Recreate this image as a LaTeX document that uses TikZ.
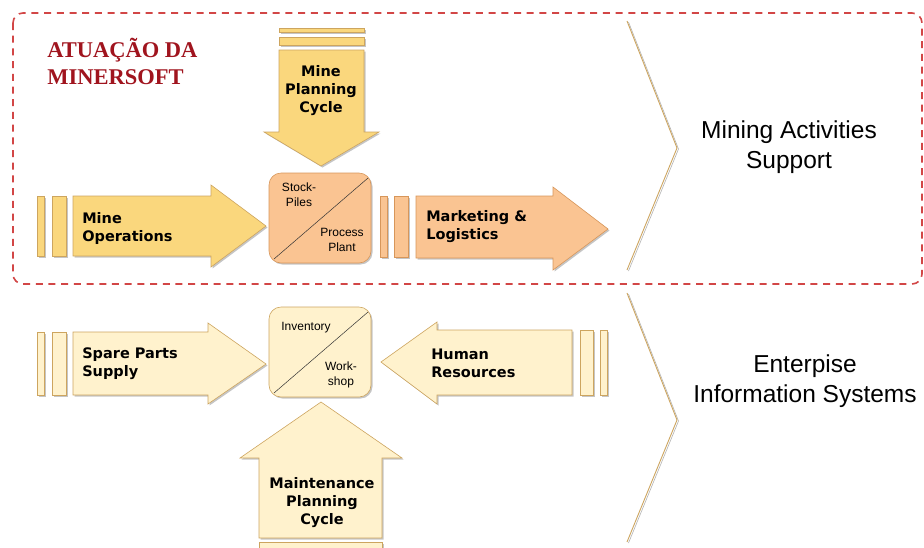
\documentclass[tikz,border=0pt]{standalone}
\usepackage{fontspec}
\usepackage{tikz}
\usetikzlibrary{shadows}
\newfontfamily\boxfont{DejaVu Sans}
\newfontfamily\smallfont{Liberation Sans}
\newfontfamily\titlefont{Liberation Serif}
\definecolor{ylw}{RGB}{250,215,125}
\definecolor{org}{RGB}{250,196,146}
\definecolor{crm}{RGB}{255,242,205}
\definecolor{edge}{RGB}{205,165,95}
\definecolor{oedge}{RGB}{215,150,90}
\definecolor{zone}{RGB}{210,70,70}
\definecolor{ttl}{RGB}{160,20,30}

\begin{document}
\begin{tikzpicture}[x=1pt, y=-1pt, line width=0.6pt,
    blk/.style={draw=edge, drop shadow={shadow xshift=1.5pt, shadow yshift=-1.5pt, fill=black!45, opacity=.5}},
    yblk/.style={blk, fill=ylw},
    oblk/.style={blk, draw=oedge, fill=org},
    cblk/.style={blk, fill=crm},
    lbl/.style={font=\boxfont\bfseries\fontsize{14.5}{18}\selectfont, align=left, inner sep=0},
    clbl/.style={lbl, align=center},
    sml/.style={font=\smallfont\fontsize{12}{15}\selectfont, align=center, inner sep=0},
    big/.style={font=\smallfont\fontsize{24.5}{30}\selectfont, align=center, inner sep=0},
    chev/.style={draw=edge, line width=0.9pt,
                 preaction={draw=black!30, transform canvas={shift={(1.5pt,-1pt)}}}}]
      \useasboundingbox (0,0) rectangle (924,547);

      % upper zone
      \draw[zone, line width=1.6pt, dash pattern=on 7pt off 5.7pt, rounded corners=10pt]
           (13,13) rectangle (922,284);
      \node(title) [anchor=north west, inner sep=0, align=left, text=ttl,
                    font=\titlefont\bfseries\fontsize{22.5}{27}\selectfont] at (47,38) {ATUAÇÃO DA\\MINERSOFT};

      % mine planning (down)
      \draw[yblk] (279,28) rectangle (364,32);
      \draw[yblk] (279,37) rectangle (364,45);
      \draw[yblk] (279,50) -- (364,50) -- (364,132) -- (379,132) -- (321,166)
                  -- (264,132) -- (279,132) -- cycle;
      \node(plan) [clbl] at (321,91) {Mine\\Planning\\Cycle};

      % mine operations (right)
      \draw[yblk] (37,196) rectangle (44,256);
      \draw[yblk] (52,196) rectangle (66,256);
      \draw[yblk] (73,196) -- (211,196) -- (211,185) -- (266,226) -- (211,267)
                  -- (211,256) -- (73,256) -- cycle;
      \node(ops) [lbl, anchor=west] at (82,228) {Mine\\Operations};

      % stock piles / process plant
      \draw[oblk, rounded corners=12pt] (269,173) rectangle (371,263);
      \draw[black!80, line width=0.5pt] (274,259) -- (368,178);
      \node(stock) [sml] at (299,195) {Stock-\\Piles};
      \node(plant) [sml] at (342,240) {Process\\Plant};

      % marketing (right)
      \draw[oblk] (380,196) rectangle (387,257);
      \draw[oblk] (394,196) rectangle (408,257);
      \draw[oblk] (416,196) -- (553,196) -- (553,187) -- (608,229) -- (553,270)
                  -- (553,258) -- (416,258) -- cycle;
      \node(mkt) [lbl, anchor=west] at (426,227) {Marketing \&\\Logistics};

      % lower part
      \draw[cblk] (37,332) rectangle (44,395);
      \draw[cblk] (52,332) rectangle (66,395);
      \draw[cblk] (73,332) -- (208,332) -- (208,323) -- (266,364) -- (208,404)
                  -- (208,395) -- (73,395) -- cycle;
      \node(spare) [lbl, anchor=west] at (82,364) {Spare Parts\\Supply};

      \draw[cblk, rounded corners=12pt] (269,307) rectangle (371,397);
      \draw[black!80, line width=0.5pt] (274,393) -- (368,312);
      \node(inv)  [sml] at (306,328) {Inventory};
      \node(shop) [sml] at (341,375) {Work-\\shop};

      \draw[cblk] (580,330) rectangle (593,395);
      \draw[cblk] (600,330) rectangle (607,395);
      \draw[cblk] (572,330) -- (437,330) -- (437,322) -- (381,362) -- (437,404)
                  -- (437,395) -- (572,395) -- cycle;
      \node(hr) [lbl, anchor=west] at (431,363) {Human\\Resources};

      \draw[cblk] (259,542) rectangle (382,552);
      \draw[cblk] (259,538) -- (259,458) -- (240,458) -- (321,402) -- (402,458)
                  -- (382,458) -- (382,538) -- cycle;
      \node(maint) [clbl] at (322,503) {Maintenance\\Planning\\Cycle};

      % chevrons and captions
      \draw[chev] (627,21) -- (677,148) -- (627,270);
      \draw[chev] (627,293) -- (677,420) -- (627,542);
      \node(mas) [big] at (789,147) {Mining Activities\\Support};
      \node(eis) [big] at (805,381) {Enterpise\\Information Systems};
    \end{tikzpicture}
\end{document}
